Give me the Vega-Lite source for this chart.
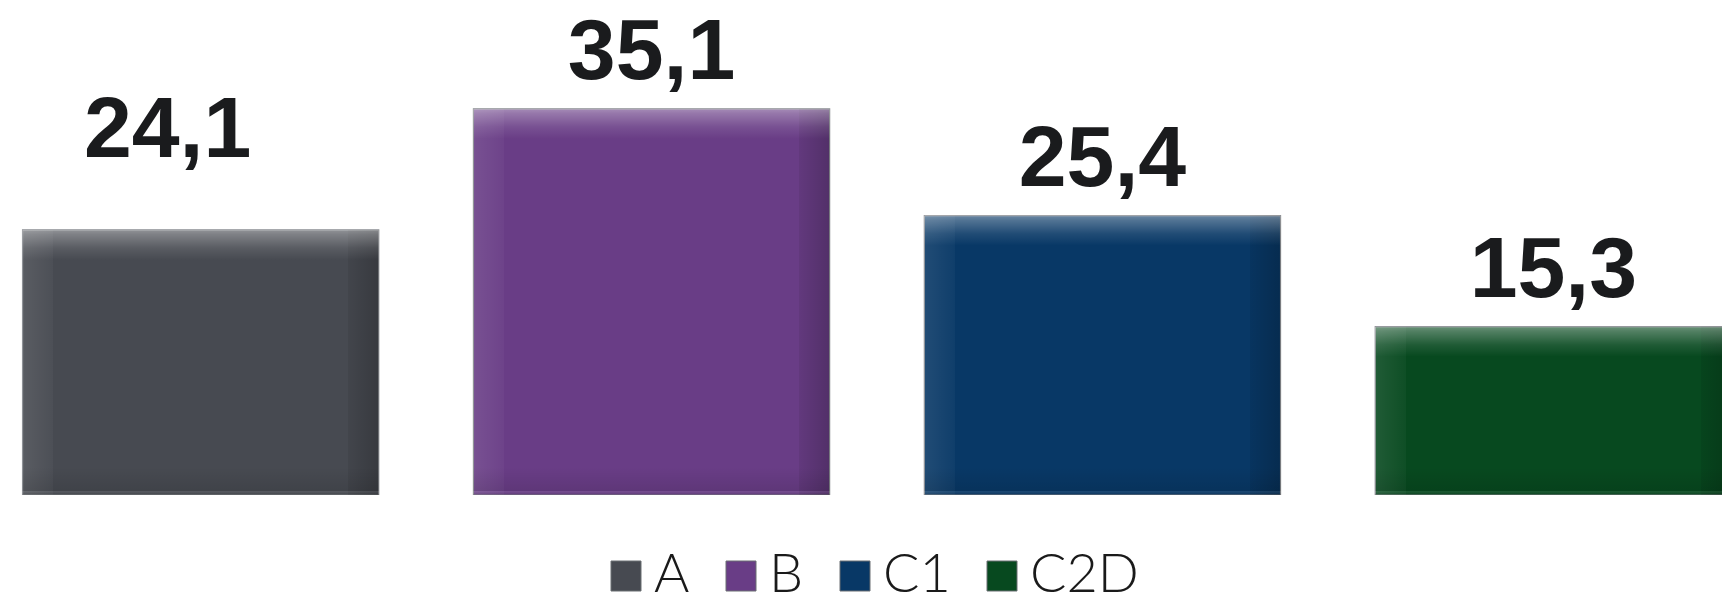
{
  "$schema": "https://vega.github.io/schema/vega-lite/v6.json",
  "width": 1722,
  "height": 495,
  "autosize": {"type": "none"},
  "padding": {"left": 0, "top": 0, "right": 0, "bottom": 108},
  "background": "#ffffff",
  "data": {
    "values": [
      {"category": "A", "value": 24.1, "label": "24,1"},
      {"category": "B", "value": 35.1, "label": "35,1"},
      {"category": "C1", "value": 25.4, "label": "25,4"},
      {"category": "C2D", "value": 15.3, "label": "15,3"}
    ]
  },
  "encoding": {
    "x": {
      "field": "category",
      "type": "nominal",
      "sort": null,
      "axis": null,
      "scale": {"range": [0, 1754], "paddingInner": 0.21, "paddingOuter": 0.05}
    },
    "y": {
      "field": "value",
      "type": "quantitative",
      "axis": null,
      "scale": {"domain": [0, 45], "nice": false, "zero": true}
    }
  },
  "layer": [
    {
      "mark": {"type": "bar", "clip": true, "stroke": "#8a8d92", "strokeWidth": 1.2},
      "encoding": {
        "color": {
          "field": "category",
          "type": "nominal",
          "sort": null,
          "scale": {"domain": ["A", "B", "C1", "C2D"], "range": ["#474A51", "#693D86", "#083866", "#07491F"]},
          "legend": {
            "title": null,
            "orient": "none",
            "legendX": 599,
            "legendY": 549,
            "padding": 0,
            "direction": "horizontal",
            "symbolType": "square",
            "symbolSize": 900,
            "symbolStrokeColor": "#6b6e73",
            "symbolStrokeWidth": 1,
            "labelFont": "Lato",
            "labelFontWeight": 300,
            "labelFontSize": 54,
            "labelColor": "#1a1a1a",
            "labelOffset": 1,
            "columnPadding": 24,
            "labelLimit": 400
          }
        }
      }
    },
    {
      "mark": {
        "type": "bar",
        "clip": true,
        "fill": {
          "gradient": "linear",
          "x1": 0, "y1": 0, "x2": 1, "y2": 0,
          "stops": [
            {"offset": 0, "color": "rgba(255,255,255,0.10)"},
            {"offset": 0.085, "color": "rgba(255,255,255,0.03)"},
            {"offset": 0.086, "color": "rgba(255,255,255,0)"},
            {"offset": 0.914, "color": "rgba(0,0,0,0)"},
            {"offset": 0.915, "color": "rgba(0,0,0,0.07)"},
            {"offset": 1, "color": "rgba(0,0,0,0.22)"}
          ]
        }
      }
    },
    {
      "mark": {
        "type": "bar",
        "clip": true,
        "y2Offset": 30,
        "fill": {
          "gradient": "linear",
          "x1": 0, "y1": 0, "x2": 0, "y2": 1,
          "stops": [
            {"offset": 0, "color": "rgba(255,255,255,0.40)"},
            {"offset": 0.15, "color": "rgba(255,255,255,0.30)"},
            {"offset": 0.6, "color": "rgba(255,255,255,0.10)"},
            {"offset": 1, "color": "rgba(255,255,255,0.0)"}
          ]
        }
      },
      "encoding": {
        "y2": {"field": "value"}
      }
    },
    {
      "mark": {
        "type": "bar",
        "clip": true,
        "yOffset": -28,
        "fill": {
          "gradient": "linear",
          "x1": 0, "y1": 0, "x2": 0, "y2": 1,
          "stops": [
            {"offset": 0, "color": "rgba(0,0,0,0.0)"},
            {"offset": 0.85, "color": "rgba(0,0,0,0.10)"},
            {"offset": 0.86, "color": "rgba(255,255,255,0.08)"},
            {"offset": 1, "color": "rgba(0,0,0,0.15)"}
          ]
        }
      },
      "encoding": {
        "y": {"datum": 0, "type": "quantitative"},
        "y2": {"datum": 0}
      }
    },
    {
      "transform": [{"filter": "datum.category !== 'A'"}],
      "mark": {
        "type": "text",
        "font": "Liberation Sans",
        "fontWeight": "bold",
        "fontSize": 86,
        "baseline": "alphabetic",
        "align": "center",
        "dy": -30,
        "color": "#1a1b1d"
      },
      "encoding": {"text": {"field": "label"}}
    },
    {
      "transform": [{"filter": "datum.category === 'A'"}],
      "mark": {
        "type": "text",
        "font": "Liberation Sans",
        "fontWeight": "bold",
        "fontSize": 86,
        "baseline": "alphabetic",
        "align": "center",
        "dy": -73,
        "dx": -33,
        "color": "#1a1b1d"
      },
      "encoding": {"text": {"field": "label"}}
    }
  ],
  "config": {
    "view": {"stroke": null}
  }
}
